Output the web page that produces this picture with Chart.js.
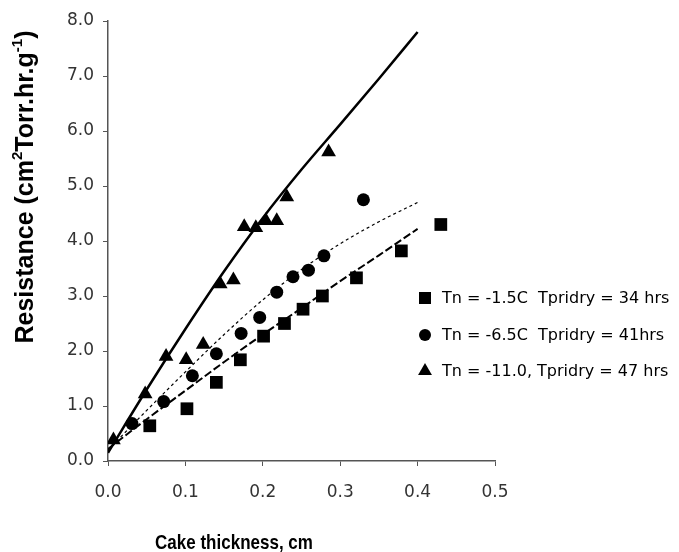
<!DOCTYPE html>
<html lang="en">
<head>
    <meta charset="UTF-8">
    <title>Resistance vs Cake thickness</title>
    <script src="https://cdn.jsdelivr.net/npm/chart.js"></script>
    <style>
        html, body { margin: 0; padding: 0; background: #fff; }
        #wrap { width: 679px; height: 552px; }
    </style>
</head>
<body>
    <div id="wrap"><canvas id="resistanceChart" width="679" height="552"></canvas></div>

    <script>
        // measured points, x = cake thickness (cm), y = resistance
        const squareX = [0.054, 0.102, 0.140, 0.171, 0.201, 0.228, 0.252, 0.277, 0.321, 0.379, 0.430];
        const squareY = [0.64, 0.95, 1.43, 1.84, 2.27, 2.50, 2.76, 3.00, 3.33, 3.82, 4.30];

        const circleX = [0.031, 0.072, 0.109, 0.140, 0.172, 0.196, 0.218, 0.239, 0.259, 0.279, 0.330];
        const circleY = [0.68, 1.08, 1.55, 1.95, 2.32, 2.61, 3.07, 3.35, 3.47, 3.73, 4.75];

        const triangleX = [0.007, 0.048, 0.075, 0.101, 0.123, 0.145, 0.162, 0.176, 0.191, 0.204, 0.218, 0.231, 0.285];
        const triangleY = [0.38, 1.22, 1.90, 1.84, 2.12, 3.22, 3.29, 4.26, 4.24, 4.37, 4.37, 4.80, 5.62];

        // fitted curves
        const fitX = [0, 0.05, 0.10, 0.15, 0.20, 0.25, 0.30, 0.35, 0.40];
        const fitSquare = [0.22, 0.76, 1.28, 1.80, 2.30, 2.78, 3.27, 3.74, 4.22];
        const fitCircle = [0.20, 0.92, 1.62, 2.30, 2.93, 3.48, 3.95, 4.35, 4.70];
        const fitTriangle = [0.15, 1.30, 2.40, 3.45, 4.42, 5.30, 6.12, 6.95, 7.80];

        const xTicks = [0, 0.1, 0.2, 0.3, 0.4, 0.5];
        const yTicks = [0, 1, 2, 3, 4, 5, 6, 7, 8];

        const legendLabels = [
            'Tn = -1.5C  Tpridry = 34 hrs',
            'Tn = -6.5C  Tpridry = 41hrs',
            'Tn = -11.0, Tpridry = 47 hrs'
        ];
        const xTitle = 'Cake thickness, cm';

        const toPoints = (xs, ys) => xs.map((x, i) => ({ x: x, y: ys[i] }));

        const markerSet = (data, style, radius) => ({
            data: data,
            showLine: false,
            pointStyle: style,
            pointRadius: radius,
            pointHoverRadius: radius,
            pointBackgroundColor: '#000',
            pointBorderWidth: 0,
            order: 1
        });

        const lineSet = (data, width, dash) => ({
            data: data,
            showLine: true,
            borderColor: '#000',
            borderWidth: width,
            borderDash: dash,
            pointRadius: 0,
            cubicInterpolationMode: 'monotone',
            order: 2
        });

        // axis titles and the legend, drawn by hand
        const extras = {
            id: 'extras',
            afterDraw(chart) {
                const ctx = chart.ctx;
                ctx.save();
                ctx.fillStyle = '#000';

                // x title (slightly tall, narrow look)
                ctx.save();
                ctx.translate(234, 549);
                ctx.scale(1, 1.2);
                ctx.textAlign = 'center';
                ctx.textBaseline = 'alphabetic';
                ctx.font = 'bold 17px "Liberation Sans", Arial, sans-serif';
                ctx.fillText(xTitle, 0, 0);
                ctx.restore();

                // y title with superscripts
                const parts = [
                    ['Resistance (cm', false],
                    ['2', true],
                    ['Torr.hr.g', false],
                    ['-1', true],
                    [')', false]
                ];
                const bigFont = 'bold 25px "Liberation Sans", Arial, sans-serif';
                const smallFont = 'bold 15px "Liberation Sans", Arial, sans-serif';
                let total = 0;
                parts.forEach(p => {
                    ctx.font = p[1] ? smallFont : bigFont;
                    total += ctx.measureText(p[0]).width;
                });
                ctx.translate(33, 187);
                ctx.rotate(-Math.PI / 2);
                ctx.textAlign = 'left';
                let pos = -total / 2;
                parts.forEach(p => {
                    ctx.font = p[1] ? smallFont : bigFont;
                    ctx.fillText(p[0], pos, p[1] ? -11 : 0);
                    pos += ctx.measureText(p[0]).width;
                });
                ctx.restore();

                // legend
                ctx.save();
                ctx.fillStyle = '#000';
                ctx.font = '16px "DejaVu Sans", sans-serif';
                ctx.textBaseline = 'middle';
                ctx.textAlign = 'left';
                const styles = [['rect', 8.5], ['circle', 6], ['triangle', 8]];
                const rowsY = [298, 335, 371];
                legendLabels.forEach((label, i) => {
                    Chart.helpers.drawPoint(ctx, {
                        pointStyle: styles[i][0],
                        radius: styles[i][1],
                        rotation: 0,
                        borderWidth: 0
                    }, 425, rowsY[i]);
                    ctx.fillStyle = '#000';
                    ctx.fillText(label, 442, rowsY[i] + 1);
                });
                ctx.restore();
            }
        };

        const ctx = document.getElementById('resistanceChart').getContext('2d');
        const chart = new Chart(ctx, {
            type: 'scatter',
            data: {
                datasets: [
                    markerSet(toPoints(squareX, squareY), 'rect', 9),
                    markerSet(toPoints(circleX, circleY), 'circle', 6.5),
                    markerSet(toPoints(triangleX, triangleY), 'triangle', 8.5),
                    lineSet(toPoints(fitX, fitSquare), 2, [8, 3]),
                    lineSet(toPoints(fitX, fitCircle), 1.2, [3, 3]),
                    lineSet(toPoints(fitX, fitTriangle), 2.5, [])
                ]
            },
            options: {
                responsive: false,
                animation: false,
                devicePixelRatio: 1,
                layout: { padding: { top: 21, right: 184, bottom: 0, left: 0 } },
                plugins: {
                    legend: { display: false },
                    tooltip: { enabled: false }
                },
                scales: {
                    x: {
                        type: 'linear',
                        min: 0,
                        max: 0.5,
                        afterBuildTicks: s => { s.ticks = xTicks.map(v => ({ value: v })); },
                        afterFit: s => { s.height = 91; },
                        ticks: {
                            callback: v => v.toFixed(1),
                            color: '#333',
                            padding: 16,
                            maxRotation: 0,
                            font: { family: 'DejaVu Sans', size: 17 }
                        },
                        grid: { drawOnChartArea: false, drawTicks: true, tickLength: 5, color: '#555' },
                        border: { color: '#555', width: 1.5 }
                    },
                    y: {
                        type: 'linear',
                        min: 0,
                        max: 8,
                        afterBuildTicks: s => { s.ticks = yTicks.map(v => ({ value: v })); },
                        afterFit: s => { s.width = 108; },
                        ticks: {
                            callback: v => v.toFixed(1),
                            color: '#333',
                            padding: 9,
                            font: { family: 'DejaVu Sans', size: 17 }
                        },
                        grid: { drawOnChartArea: false, drawTicks: true, tickLength: 5, color: '#555' },
                        border: { color: '#555', width: 1.5 }
                    }
                }
            },
            plugins: [extras]
        });
    </script>
</body>
</html>
